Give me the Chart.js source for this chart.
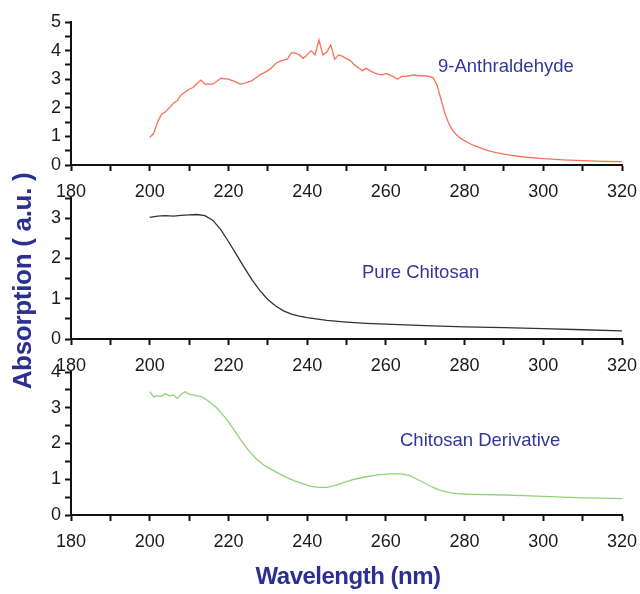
<!DOCTYPE html>
<html>
<head>
<meta charset="utf-8">
<script src="https://cdn.jsdelivr.net/npm/chart.js@4.4.0/dist/chart.umd.min.js"></script>
<style>
  html, body { margin: 0; padding: 0; background: #fff; }
  #wrap { position: relative; width: 640px; height: 594px; overflow: hidden; font-family: "Liberation Sans", Arial, sans-serif; }
  canvas { position: absolute; left: 0; }
  .lbl { position: absolute; color: #35369a; font-size: 18.5px; white-space: nowrap; line-height: 20px; }
  .title { position: absolute; color: #2c2f92; font-weight: bold; white-space: nowrap; text-align: center; }
</style>
</head>
<body>
<div id="wrap">
  <canvas id="c1" width="640" height="210" style="top:0px"></canvas>
  <canvas id="c2" width="640" height="210" style="top:170px"></canvas>
  <canvas id="c3" width="640" height="215" style="top:350px"></canvas>
  <div class="lbl" style="left:438px; top:56px;">9-Anthraldehyde</div>
  <div class="lbl" style="left:362px; top:262px;">Pure Chitosan</div>
  <div class="lbl" style="left:400px; top:430px;">Chitosan Derivative</div>
  <div class="title" style="left:-108px; top:266px; width:260px; line-height:30px; font-size:26px; transform:rotate(-90deg); letter-spacing:-0.3px;">Absorption ( a.u. )</div>
  <div class="title" style="left:228px; top:564px; width:240px; line-height:24px; font-size:24px; letter-spacing:-0.5px;">Wavelength (nm)</div>
</div>
<script>
// ---- Data (wavelength in nm, absorption in a.u.) ----
const wlAnth = [200,201,202,203,204,205,206,207,208,209,210,211,212,213,214,215,216,217,218,219,220,221,222,223,224,225,226,227,228,229,230,231,232,233,234,235,236,237,238,239,240,241,242,243,244,245,246,247,248,249,250,251,252,253,254,255,256,257,258,259,260,261,262,263,264,265,266,267,268,269,270,271,272,273,274,275,276,277,278,279,280,282,284,286,288,290,292,295,300,305,310,315,320];
const absAnth = [0.97,1.1,1.5,1.78,1.86,2.0,2.16,2.25,2.45,2.55,2.65,2.71,2.85,2.97,2.83,2.83,2.83,2.92,3.03,3.02,3.0,2.95,2.9,2.83,2.85,2.9,2.95,3.05,3.15,3.22,3.3,3.4,3.55,3.62,3.67,3.7,3.93,3.91,3.85,3.73,3.85,4.0,3.85,4.37,3.85,3.95,4.2,3.7,3.85,3.8,3.72,3.65,3.5,3.4,3.3,3.38,3.3,3.22,3.18,3.15,3.2,3.15,3.08,3.0,3.1,3.1,3.12,3.15,3.13,3.12,3.12,3.1,3.05,2.8,2.3,1.8,1.45,1.2,1.05,0.93,0.85,0.7,0.6,0.5,0.43,0.38,0.34,0.28,0.22,0.18,0.15,0.13,0.12];

const wlPure = [200,202,204,206,208,210,212,214,216,218,220,222,224,226,228,230,232,234,236,238,240,245,250,255,260,270,280,290,300,310,320];
const absPure = [3.02,3.05,3.06,3.05,3.07,3.08,3.09,3.06,2.95,2.72,2.42,2.1,1.78,1.47,1.2,0.98,0.82,0.7,0.62,0.57,0.53,0.46,0.42,0.39,0.37,0.33,0.3,0.28,0.26,0.23,0.2];

const wlDeriv = [200,201,202,203,204,205,206,207,208,209,210,211,212,213,215,217,219,221,223,225,227,229,231,233,235,237,239,241,243,245,247,249,252,255,258,261,264,266,268,270,272,274,276,278,281,285,290,295,300,305,310,315,320];
const absDeriv = [3.45,3.31,3.33,3.32,3.4,3.33,3.36,3.26,3.38,3.45,3.38,3.36,3.33,3.32,3.18,3.0,2.75,2.45,2.12,1.82,1.58,1.4,1.27,1.15,1.04,0.95,0.87,0.8,0.77,0.77,0.82,0.9,1.0,1.07,1.12,1.15,1.15,1.1,1.0,0.88,0.77,0.68,0.63,0.6,0.58,0.57,0.56,0.54,0.52,0.5,0.48,0.47,0.46];

const xTickMajor = [180,200,220,240,260,280,300,320];
const yMaxes = [5, 3.5, 4];

// ---- Rendering ----
const tickFont = { family: "'Liberation Sans', Arial, sans-serif", size: 18 };
function pts(xs, ys) { return xs.map((x, i) => ({ x: x, y: ys[i] })); }

function makeChart(id, xs, ys, color, yMax, topPad, xAxisHeight) {
  return new Chart(document.getElementById(id), {
    type: 'line',
    data: { datasets: [{ data: pts(xs, ys), borderColor: color, borderWidth: 1.3, pointRadius: 0, tension: 0, fill: false }] },
    options: {
      responsive: false, animation: false, events: [],
      plugins: { legend: { display: false }, tooltip: { enabled: false } },
      layout: { padding: { left: 0, right: 18, top: topPad, bottom: 0 } },
      scales: {
        x: {
          type: 'linear', min: 180, max: 320,
          afterFit: (s) => { s.height = xAxisHeight; s.paddingLeft = 0; s.paddingRight = 0; },
          ticks: { stepSize: 10, autoSkip: false, maxRotation: 0, color: '#1a1a1a', font: tickFont, padding: 10,
                   callback: (v) => xTickMajor.includes(v) ? String(v) : '' },
          grid: { drawOnChartArea: false, tickLength: 6, tickWidth: 2, tickColor: '#111' },
          border: { color: '#111', width: 2 }
        },
        y: {
          min: 0, max: yMax,
          afterFit: (s) => { s.width = 71; s.paddingTop = 0; s.paddingBottom = 0; },
          ticks: { stepSize: 0.5, autoSkip: false, color: '#1a1a1a', font: tickFont, padding: 4,
                   callback: (v) => Number.isInteger(v) ? String(v) : '' },
          grid: { drawOnChartArea: false, tickLength: 6, tickWidth: 2, tickColor: '#111' },
          border: { color: '#111', width: 2 }
        }
      }
    }
  });
}

makeChart('c1', wlAnth, absAnth, '#f8705c', yMaxes[0], 22, 45);
makeChart('c2', wlPure, absPure, '#333333', yMaxes[1], 28, 41);
makeChart('c3', wlDeriv, absDeriv, '#8fd27a', yMaxes[2], 22, 50);
</script>
</body>
</html>
